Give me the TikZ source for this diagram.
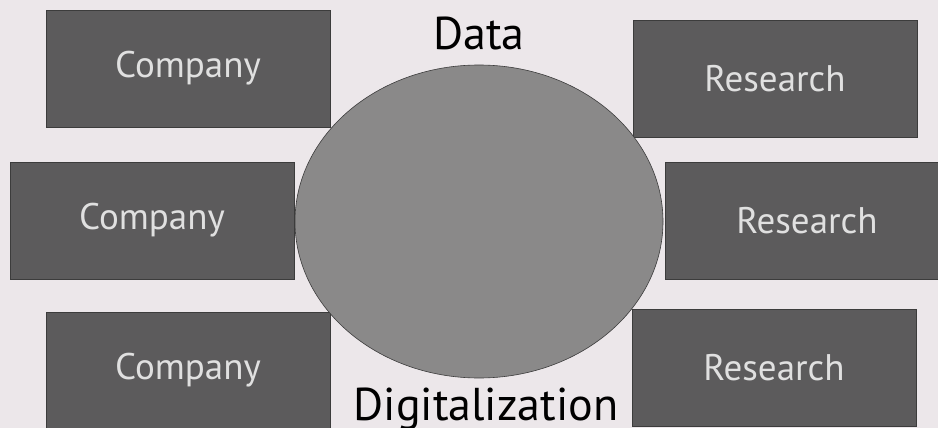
\documentclass[tikz,border=0pt]{standalone}
\usepackage{fontspec}
\setmainfont{PT Sans}
\usetikzlibrary{positioning,shapes.geometric}
\definecolor{bgpaper}{HTML}{ECE7EA}
\definecolor{boxgray}{HTML}{5C5B5C}
\definecolor{hubgray}{HTML}{8A8989}
\definecolor{edgegray}{HTML}{3C3C3C}
\definecolor{boxtext}{HTML}{E0E0E0}

\begin{document}
\begin{tikzpicture}[x=1pt, y=-1pt,
  box/.style = {draw=edgegray, fill=boxgray, text=boxtext, line width=0.6pt,
    minimum width=284pt, minimum height=117pt, inner sep=0pt,
    font=\fontsize{37}{40}\selectfont},
  hub/.style = {draw=edgegray, fill=hubgray, ellipse, line width=0.6pt,
    minimum width=368pt, minimum height=313pt, inner sep=0pt},
  tag/.style = {inner sep=0pt, text=black, font=\fontsize{46}{50}\selectfont}]
\fill[bgpaper] (0,0) rectangle (938,428);
\useasboundingbox (0,0) rectangle (938,428);
% left side
\node[box] (c1) at (188,68.5) {Company};
\node[box] (c2) at (152,220.5) {Company};
\node[box] (c3) at (188,370.5) {Company};
% right side
\node[box] (r1) at (775,78.5) {Research};
\node[box] (r2) at (807,221) {Research};
\node[box] (r3) at (774,367.5) {Research};
% centre
\node[hub] (d) at (479,221.5) {};
\node[tag] (data) [above=14pt of d.north] {Data};
\node[tag] (digi) [below=9pt of d.south, xshift=7pt] {Digitalization};
\end{tikzpicture}
\end{document}
